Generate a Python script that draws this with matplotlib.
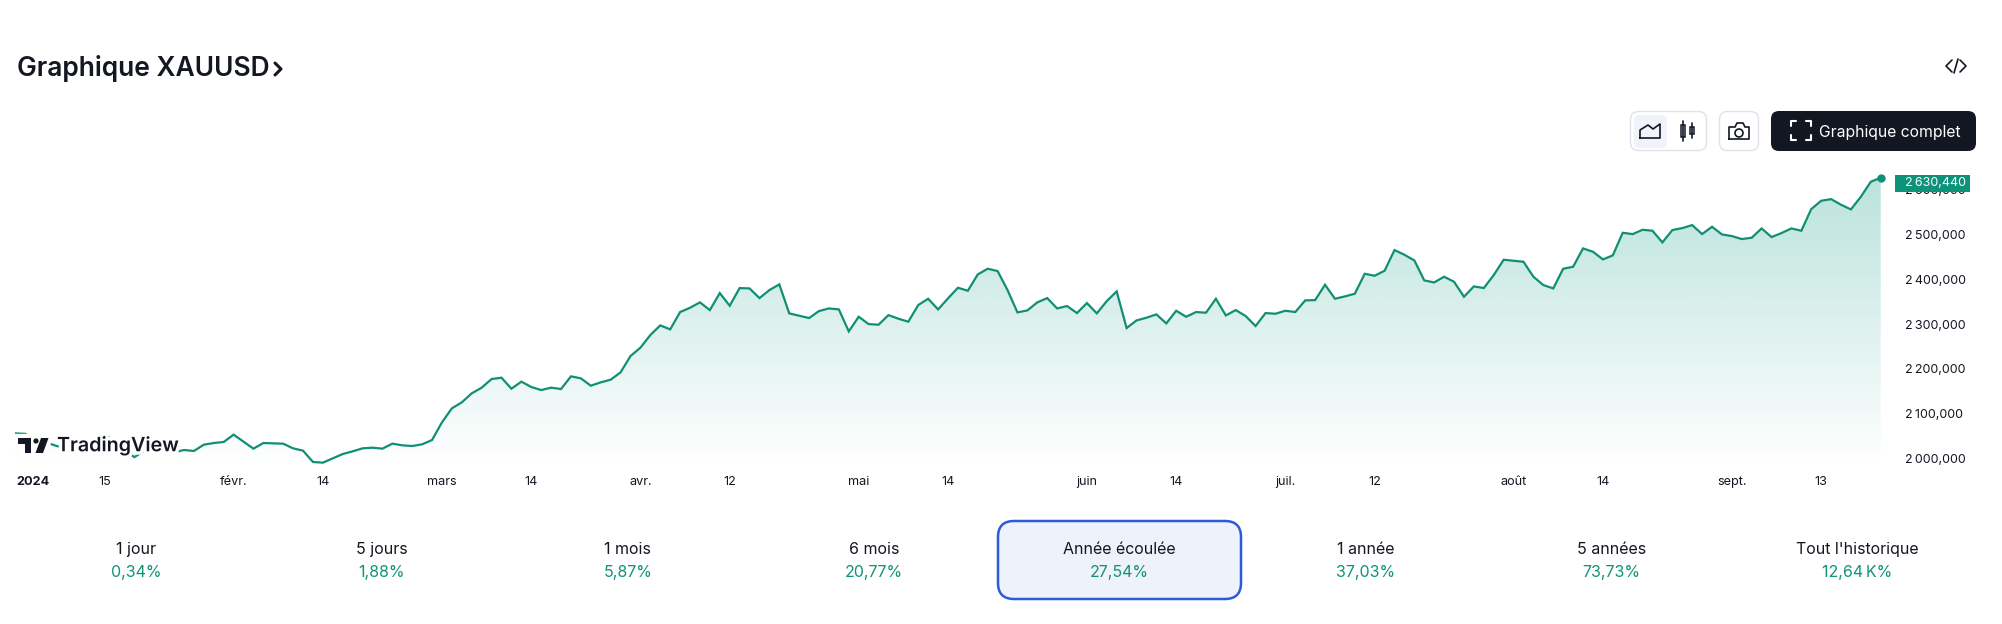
import numpy as np
import matplotlib
matplotlib.use('Agg')
import matplotlib.pyplot as plt
import matplotlib.patheffects as pe
from matplotlib.patches import FancyBboxPatch, Polygon, Circle, Rectangle
from matplotlib.transforms import ScaledTranslation

plt.rcParams['font.family'] = ['Inter', 'DejaVu Sans']

#Daily closes (the first ones are behind the logo):

prices = [
    2059, 2058, 2044, 2040, 2032, 2026, 2029, 2030, 2048, 2056, 2042, 2022, 2006, 2020, 2026, 2022,
    2016.7, 2021.9, 2019.7, 2033.8, 2037.5, 2039.8, 2056.2, 2040.5, 2024.9, 2037.5, 2036.8, 2036.0,
    2025.6, 2020.4, 1995.1, 1993.6, 2003.3,
    2012.9, 2018.9, 2025.6, 2027.1, 2024.9, 2036.1, 2032.3, 2030.8, 2034.6, 2044.2, 2083.7, 2115.0,
    2128.4, 2148.5, 2161.2, 2180.5, 2183.5, 2158.9, 2174.6, 2162.7, 2155.9, 2161.2, 2158.2, 2186.5,
    2182.0, 2165.6, 2173.1, 2179.0, 2195.4, 2231.9, 2250.5,
    2278.8, 2300.4, 2291.4, 2330.2, 2339.8, 2351.8, 2334.6, 2372.6, 2344.3, 2383.8, 2383.0, 2361.4,
    2379.3, 2392.0, 2327.2, 2322.0, 2316.8, 2332.4, 2338.3, 2336.1, 2287.0, 2319.7, 2303.3, 2301.9,
    2323.4, 2315.3, 2308.6, 2345.8, 2359.9, 2336.1, 2360.7,
    2384.5, 2377.8, 2414.3, 2427.0, 2421.8, 2379.3, 2329.4, 2333.9, 2351.8, 2361.4, 2338.3, 2343.6,
    2327.9, 2350.3, 2327.2, 2354.7, 2376.3, 2294.4, 2311.5, 2317.5, 2325.0, 2304.8, 2333.1, 2319.7,
    2330.2, 2328.7, 2359.9, 2322.7, 2334.6, 2321.2, 2298.9, 2327.9,
    2326.4, 2333.1, 2330.2, 2356.2, 2356.9, 2391.2, 2359.9, 2365.2, 2371.1, 2415.8, 2411.3, 2422.5,
    2468.7, 2458.2, 2445.6, 2400.9, 2396.4, 2409.1, 2397.9, 2364.4, 2387.5, 2383.8, 2412.8, 2447.1,
    2444.8, 2442.6, 2409.1, 2390.5, 2383.0, 2427.0, 2431.4,
    2472.4, 2465.0, 2447.9, 2456.8, 2507.4, 2504.4, 2514.1, 2511.9, 2485.8, 2513.4, 2517.8, 2524.5,
    2504.4, 2520.8, 2503.7, 2500.0, 2493.3, 2496.3, 2517.1, 2497.8, 2506.7, 2517.1, 2511.9, 2560.3,
    2578.9, 2582.6, 2570.0, 2559.6, 2587.9, 2621.4, 2630.44,
]

x_ticks = [1.8, 9, 22, 31, 43, 52, 63, 72, 85, 94, 108, 117, 128, 137, 151, 160, 173, 182]
x_labels = ['2024', '15', 'févr.', '14', 'mars', '14', 'avr.', '12', 'mai', '14', 'juin', '14',
            'juil.', '12', 'août', '14', 'sept.', '13']
y_ticks = [2000, 2100, 2200, 2300, 2400, 2500, 2600]
y_labels = ['2\u2009000,000', '2\u2009100,000', '2\u2009200,000', '2\u2009300,000', '2\u2009400,000',
            '2\u2009500,000', '2\u2009600,000']
last_label = '2\u2009630,440'

periods = ['1 jour', '5 jours', '1 mois', '6 mois', 'Année écoulée', '1 année', '5 années', "Tout l'historique"]
changes = ['0,34%', '1,88%', '5,87%', '20,77%', '27,54%', '37,03%', '73,73%', '12,64\u2009K%']

GREEN = '#0C9379'
TEXT_GREEN = '#0F9478'
LINE = '#118F74'
DARK = '#131722'
W, H = 2002, 624

fig = plt.figure(figsize=(W / 100, H / 100), dpi=100, facecolor='white')

#Chart axes, placed in pixels:

left, right, top, bottom = 15.3, 1880.7, 160, 470
scale = 2.2349  # dollars per pixel
chart = fig.add_axes([left / W, (H - bottom) / H, (right - left) / W, (bottom - top) / H])
ymin = 2000 + (459.8 - bottom) * scale
ymax = 2000 + (459.8 - top) * scale
xs = np.arange(len(prices))

#Gradient under the line:

grad_top = 2630.44
grad_bottom = 1985
levels = np.linspace(ymax, ymin, 300)
rgba = np.zeros((300, 1, 4))
rgba[:, 0, :3] = matplotlib.colors.to_rgb('#089981')
rgba[:, 0, 3] = np.clip((levels - grad_bottom) / (grad_top - grad_bottom), 0, 1) * 0.28
im = chart.imshow(rgba, extent=(0, len(prices) - 1, ymin, ymax), aspect='auto', zorder=1)
poly = Polygon(list(zip(xs, prices)) + [(xs[-1], ymin), (0, ymin)], closed=True,
               transform=chart.transData, facecolor='none', edgecolor='none')
chart.add_patch(poly)
im.set_clip_path(poly)

chart.plot(xs, prices, color=LINE, linewidth=1.6, solid_joinstyle='miter', zorder=2)
chart.plot(xs[-1], prices[-1], 'o', color=LINE, markersize=5, clip_on=False, zorder=3)

chart.set_xlim(0, len(prices) - 1)
chart.set_ylim(ymin, ymax)
chart.set_xticks(x_ticks)
chart.set_xticklabels(x_labels, fontsize=9.1, color=DARK)
chart.get_xticklabels()[0].set_fontweight('bold')
chart.set_yticks(y_ticks)
chart.set_yticklabels(y_labels, fontsize=9.0, color=DARK)
chart.yaxis.tick_right()
chart.tick_params(axis='both', length=0)
chart.tick_params(axis='x', pad=4.6)
chart.tick_params(axis='y', pad=17.5)
#the price labels sit a little above their real level
up = ScaledTranslation(0, 1.5 / 100, fig.dpi_scale_trans)
for lab in chart.get_yticklabels():
    lab.set_transform(lab.get_transform() + up)
for s in chart.spines.values():
    s.set_visible(False)
chart.patch.set_alpha(0)

#Everything else is drawn over the chart in pixel coordinates:

ui = fig.add_axes([0, 0, 1, 1], zorder=5)
ui.set_xlim(0, W)
ui.set_ylim(H, 0)
ui.axis('off')
ui.patch.set_alpha(0)


def box(x0, y0, x1, y1, r, fc, ec='none', lw=1.0):
    ui.add_patch(FancyBboxPatch((x0, y0), x1 - x0, y1 - y0, boxstyle='round,pad=0,rounding_size=%g' % r,
                                facecolor=fc, edgecolor=ec, linewidth=lw))


def stroke(px, py, color=DARK, lw=1.2):
    ui.plot(px, py, color=color, linewidth=lw, solid_capstyle='round', solid_joinstyle='round')


#Title and the code icon:

ui.text(17, 69, 'Graphique XAUUSD', fontsize=19, fontweight='semibold', color=DARK, va='center', ha='left')
stroke([275, 281, 275], [63, 69, 75], lw=2.2)
stroke([1952, 1946, 1952], [60, 66, 72])
stroke([1960, 1966, 1960], [60, 66, 72])
stroke([1954, 1958], [73, 59])

#Buttons:

box(1630.5, 111.5, 1706.5, 150.5, 8, 'white', '#E0E3EB')
box(1634, 115, 1667, 148, 5, '#F0F3FA')
box(1719.5, 111.5, 1758.5, 150.5, 8, 'white', '#E0E3EB')
box(1771, 111, 1976, 151, 8, DARK)
ui.text(1819, 132, 'Graphique complet', fontsize=11.3, color='white', va='center', ha='left')

stroke([1640, 1640, 1648, 1653, 1660, 1660, 1640], [138, 130, 125, 129, 124, 138, 138])
stroke([1683, 1683], [121, 141])
ui.add_patch(Rectangle((1681, 125), 4, 12, facecolor='white', edgecolor=DARK, linewidth=1.1))
stroke([1691.5, 1691.5], [123, 138])
ui.add_patch(Rectangle((1689.5, 127), 4, 7, facecolor='white', edgecolor=DARK, linewidth=1.1))

stroke([1729, 1729, 1735, 1737, 1743, 1745, 1749, 1749, 1729],
       [139, 127, 127, 123, 123, 127, 127, 139, 139])
ui.add_patch(Circle((1739, 133), 4, facecolor='none', edgecolor=DARK, linewidth=1.2))

for cx, cy, dx, dy in [(1791, 121, 1, 1), (1811, 121, -1, 1), (1791, 140, 1, -1), (1811, 140, -1, -1)]:
    stroke([cx + 5 * dx, cx, cx], [cy, cy, cy + 5 * dy], color='white', lw=1.5)

#Price tag of the last close:

ui.add_patch(Rectangle((1895, 175), 75, 17, facecolor=GREEN, edgecolor='none'))
ui.text(1905, 183.5, last_label, fontsize=9.0, color='white', va='center', ha='left')

#TradingView logo, white halo first so it only hides the line:

logo_shapes = [
    [(18, 438), (31, 438), (31, 453), (25, 453), (25, 443.5), (18, 443.5)],
    [(41, 438), (48.5, 438), (43, 453), (35.5, 453)],
]
for pts in logo_shapes:
    ui.add_patch(Polygon(pts, closed=True, facecolor='white', edgecolor='white', linewidth=6))
ui.add_patch(Circle((36, 441), 2.6, facecolor='white', edgecolor='white', linewidth=6))
for pts in logo_shapes:
    ui.add_patch(Polygon(pts, closed=True, facecolor=DARK, edgecolor='none'))
ui.add_patch(Circle((36, 441), 2.6, facecolor=DARK, edgecolor='none'))
ui.text(57, 446, 'TradingView', fontsize=14.2, fontweight='semibold', color=DARK, va='center', ha='left',
        path_effects=[pe.withStroke(linewidth=5, foreground='white')])

#Performance row:

box(998, 521, 1241, 599, 16, '#EEF2FB', '#2B5BDB', 1.8)
for i in range(len(periods)):
    cx = 136 + 245.9 * i
    ui.text(cx, 549.5, periods[i], fontsize=11.5, color=DARK, va='center', ha='center')
    ui.text(cx, 573, changes[i], fontsize=11.5, color=TEXT_GREEN, va='center', ha='center')

plt.savefig('out.png', dpi=100)
